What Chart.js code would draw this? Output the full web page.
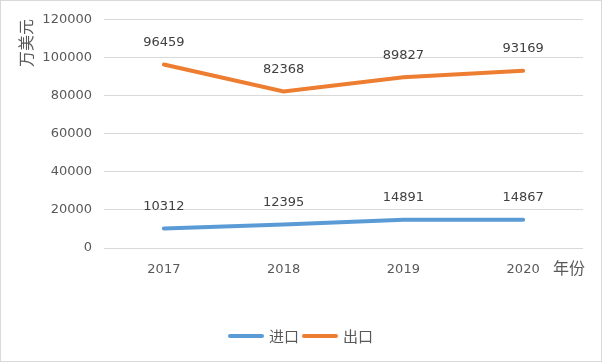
<!DOCTYPE html>
<html><head><meta charset="utf-8">
<script src="https://cdn.jsdelivr.net/npm/chart.js@4/dist/chart.umd.min.js"></script>
<style>html,body{margin:0;padding:0;background:#fff}#wrap{width:602px;height:362px;position:relative;box-sizing:border-box}canvas{display:block}</style>
</head><body><div id="wrap"><canvas id="c" width="602" height="362"></canvas></div>
<script>
const categories = ['2017','2018','2019','2020'];
const importValues = [10312, 12395, 14891, 14867];
const exportValues = [96459, 82368, 89827, 93169];
const yTicks = [0, 20000, 40000, 60000, 80000, 100000, 120000];
const seriesNames = ['进口','出口'];
const colors = ['#5B9BD5','#ED7D31'];
const FONT = '"Noto Sans CJK SC","DejaVu Sans",sans-serif';

const extras = {
  id:'extras',
  afterDraw(chart){
    const ctx = chart.ctx;
    ctx.save();
    ctx.strokeStyle = '#d9d9d9'; ctx.lineWidth = 1;
    ctx.strokeRect(0.5,0.5,601,361);
    ctx.fillStyle = '#404040';
    ctx.font = '13px "DejaVu Sans",sans-serif';
    ctx.textAlign = 'center'; ctx.textBaseline = 'middle';
    chart.data.datasets.forEach((ds,i)=>{
      chart.getDatasetMeta(i).data.forEach((pt,j)=>{
        ctx.fillText(String(ds.data[j]), pt.x, pt.y - 22);
      });
    });
    ctx.fillStyle = '#595959';
    ctx.font = '16px ' + FONT;
    ctx.save();
    ctx.translate(26, 43);
    ctx.rotate(-Math.PI/2);
    ctx.fillText('万美元', 0, 0);
    ctx.restore();
    ctx.textAlign = 'left';
    ctx.fillText('年份', 553, 268);
    let x = 228; const y = 336;
    ctx.font = '15px ' + FONT;
    seriesNames.forEach((n,i)=>{
      ctx.strokeStyle = colors[i]; ctx.lineWidth = 4; ctx.lineCap='round';
      ctx.beginPath(); ctx.moveTo(x+2,y); ctx.lineTo(x+34,y); ctx.stroke();
      ctx.fillStyle = '#595959';
      ctx.fillText(n, x+41, y);
      x += 41 + ctx.measureText(n).width + 3;
    });
    ctx.restore();
  }
};

new Chart(document.getElementById('c'), {
  type:'line',
  data:{
    labels: categories,
    datasets:[
      {label:seriesNames[0], data:importValues, borderColor:colors[0], backgroundColor:colors[0], borderWidth:4, pointRadius:0, tension:0, borderCapStyle:'round'},
      {label:seriesNames[1], data:exportValues, borderColor:colors[1], backgroundColor:colors[1], borderWidth:4, pointRadius:0, tension:0, borderCapStyle:'round'}
    ]
  },
  options:{
    responsive:false, animation:false,
    layout:{padding:{top:19,right:19,left:0,bottom:0}},
    plugins:{legend:{display:false}, tooltip:{enabled:false}},
    scales:{
      x:{
        offset:true,
        grid:{display:false},
        border:{display:false},
        ticks:{color:'#595959', font:{size:13, family:'"DejaVu Sans",sans-serif'}, padding:6, maxRotation:0},
        afterFit(s){ s.height = 114; }
      },
      y:{
        min:0, max:120000,
        afterBuildTicks(s){ s.ticks = yTicks.map(v=>({value:v})); },
        grid:{color:'#d9d9d9', drawTicks:false},
        border:{display:false},
        ticks:{color:'#595959', font:{size:13, family:'"DejaVu Sans",sans-serif'}, padding:12, callback:(v)=>String(v)},
        afterFit(s){ s.width = 104; }
      }
    }
  },
  plugins:[extras]
});
</script></body></html>
